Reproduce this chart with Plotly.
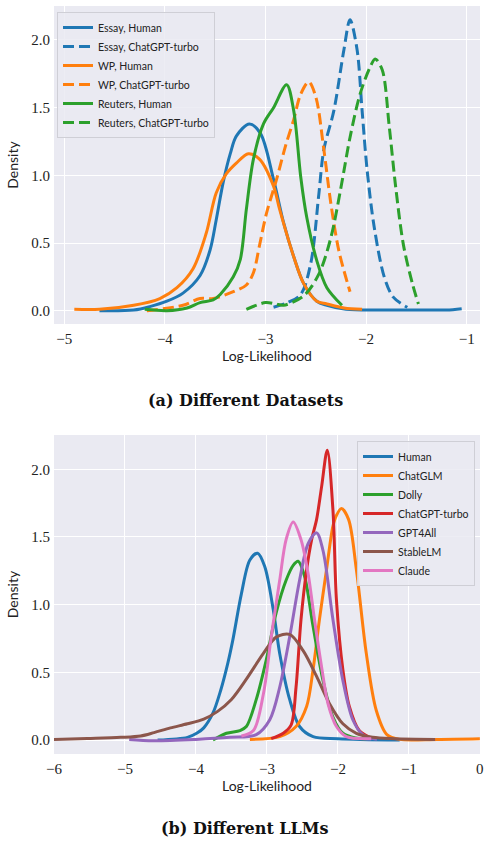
import plotly.graph_objects as go

# ---------------- (a) Different Datasets ----------------
essay_h_x = [-4.65,-4.31,-4.15,-3.98,-3.82,-3.65,-3.55,-3.49,-3.42,-3.35,-3.29,-3.16,-3.05,-2.92,-2.82,-2.72,-2.62,-2.49,-2.39,-2.2,-1.8,-1.4,-1.2,-1.05]
essay_h_y = [0.0,0.005,0.03,0.07,0.13,0.26,0.45,0.67,0.95,1.16,1.29,1.38,1.31,0.97,0.65,0.40,0.20,0.07,0.04,0.01,0.005,0.005,0.005,0.015]

essay_c_x = [-2.92,-2.78,-2.65,-2.55,-2.47,-2.42,-2.32,-2.22,-2.16,-2.09,-2.04,-1.99,-1.92,-1.82,-1.73,-1.59]
essay_c_y = [0.025,0.06,0.12,0.35,0.86,1.19,1.48,1.93,2.15,1.93,1.48,1.04,0.62,0.25,0.10,0.025]

wp_h_x = [-4.9,-4.65,-4.31,-4.05,-3.88,-3.72,-3.59,-3.49,-3.39,-3.29,-3.17,-3.06,-2.92,-2.86,-2.72,-2.62,-2.49,-2.39,-2.22,-2.04]
wp_h_y = [0.01,0.01,0.04,0.09,0.17,0.31,0.57,0.87,1.01,1.09,1.16,1.12,0.92,0.75,0.40,0.20,0.07,0.05,0.02,0.01]

wp_c_x = [-4.18,-3.82,-3.65,-3.52,-3.32,-3.19,-3.12,-3.06,-2.99,-2.89,-2.80,-2.72,-2.65,-2.57,-2.50,-2.42,-2.35,-2.27,-2.16]
wp_c_y = [0.0,0.04,0.09,0.09,0.14,0.19,0.28,0.48,0.72,0.97,1.22,1.41,1.60,1.69,1.58,1.19,0.79,0.44,0.14]

reu_h_x = [-4.2,-3.98,-3.78,-3.65,-3.52,-3.45,-3.32,-3.25,-3.19,-3.12,-3.02,-2.92,-2.79,-2.72,-2.65,-2.59,-2.49,-2.39,-2.24]
reu_h_y = [0.01,0.0,0.02,0.06,0.08,0.12,0.25,0.38,0.75,1.12,1.38,1.50,1.67,1.48,0.99,0.69,0.37,0.17,0.04]

reu_c_x = [-3.19,-3.0,-2.9,-2.82,-2.62,-2.47,-2.35,-2.25,-2.16,-2.06,-1.96,-1.91,-1.84,-1.77,-1.71,-1.63,-1.54,-1.48]
reu_c_y = [0.01,0.06,0.05,0.04,0.11,0.27,0.54,0.91,1.28,1.60,1.80,1.86,1.78,1.36,0.94,0.49,0.20,0.05]

# ---------------- (b) Different LLMs ----------------
human_x = [-4.54,-4.12,-3.99,-3.89,-3.76,-3.65,-3.55,-3.48,-3.36,-3.24,-3.13,-3.03,-2.91,-2.82,-2.68,-2.54,-2.35,-2.0,-1.13]
human_y = [0.0,0.02,0.05,0.09,0.20,0.37,0.57,0.74,1.08,1.33,1.38,1.28,0.96,0.64,0.30,0.10,0.025,0.01,0.0]

chatglm_x = [-3.24,-2.82,-2.59,-2.44,-2.35,-2.26,-2.16,-2.07,-2.02,-1.95,-1.85,-1.74,-1.60,-1.46,-1.31,-1.13,-0.6,0.0]
chatglm_y = [0.005,0.025,0.10,0.25,0.52,0.89,1.26,1.58,1.66,1.71,1.63,1.26,0.64,0.22,0.04,0.005,0.005,0.01]

dolly_x = [-3.76,-3.57,-3.38,-3.29,-3.15,-3.01,-2.87,-2.73,-2.63,-2.56,-2.47,-2.35,-2.21,-2.07,-1.93,-1.75,-1.6]
dolly_y = [0.0,0.05,0.07,0.10,0.30,0.59,0.94,1.18,1.29,1.32,1.21,0.84,0.44,0.17,0.05,0.015,0.01]

turbo_x = [-2.94,-2.77,-2.66,-2.59,-2.52,-2.44,-2.37,-2.30,-2.23,-2.15,-2.07,-2.02,-1.93,-1.84,-1.70,-1.55]
turbo_y = [0.01,0.05,0.11,0.39,0.89,1.26,1.48,1.63,1.87,2.14,1.70,1.03,0.52,0.25,0.07,0.02]

gpt4all_x = [-4.94,-4.6,-4.0,-3.52,-3.15,-2.96,-2.82,-2.68,-2.54,-2.42,-2.30,-2.21,-2.07,-1.93,-1.79,-1.65,-1.45]
gpt4all_y = [0.005,-0.005,0.005,0.02,0.04,0.15,0.39,0.76,1.18,1.45,1.53,1.40,0.89,0.44,0.15,0.04,0.005]

stablelm_x = [-6.0,-5.53,-5.06,-4.78,-4.59,-4.36,-4.12,-3.89,-3.7,-3.5,-3.29,-3.05,-2.87,-2.68,-2.49,-2.30,-2.12,-1.93,-1.74,-1.51,-1.2,-0.63]
stablelm_y = [0.005,0.012,0.02,0.03,0.055,0.09,0.12,0.155,0.21,0.30,0.45,0.64,0.76,0.78,0.66,0.47,0.27,0.12,0.05,0.02,0.01,0.005]

claude_x = [-3.36,-3.19,-3.05,-2.94,-2.82,-2.73,-2.63,-2.52,-2.42,-2.33,-2.23,-2.14,-2.02,-1.88,-1.53]
claude_y = [0.03,0.07,0.34,0.76,1.18,1.48,1.61,1.48,1.23,0.89,0.54,0.27,0.10,0.025,0.01]

x_ticks_a = [-5, -4, -3, -2, -1]
x_ticks_b = [-6, -5, -4, -3, -2, -1, 0]
y_ticks = [0.0, 0.5, 1.0, 1.5, 2.0]
y_tick_text = ["0.0", "0.5", "1.0", "1.5", "2.0"]

BLUE, ORANGE, GREEN, RED, PURPLE, BROWN, PINK = "#1f77b4", "#ff7f0e", "#2ca02c", "#d62728", "#9467bd", "#8c564b", "#e377c2"
DASH = "11px,5px"
LW = 3

fig = go.Figure()

top_series = [
    ("Essay, Human", essay_h_x, essay_h_y, BLUE, "solid"),
    ("Essay, ChatGPT-turbo", essay_c_x, essay_c_y, BLUE, DASH),
    ("WP, Human", wp_h_x, wp_h_y, ORANGE, "solid"),
    ("WP, ChatGPT-turbo", wp_c_x, wp_c_y, ORANGE, DASH),
    ("Reuters, Human", reu_h_x, reu_h_y, GREEN, "solid"),
    ("Reuters, ChatGPT-turbo", reu_c_x, reu_c_y, GREEN, DASH),
]
for name, xs, ys, c, d in top_series:
    fig.add_trace(go.Scatter(x=xs, y=ys, name=name, mode="lines",
                             line=dict(color=c, width=LW, dash=d, shape="spline", smoothing=0.9),
                             xaxis="x", yaxis="y", legend="legend"))

bot_series = [
    ("Human", human_x, human_y, BLUE),
    ("ChatGLM", chatglm_x, chatglm_y, ORANGE),
    ("Dolly", dolly_x, dolly_y, GREEN),
    ("ChatGPT-turbo", turbo_x, turbo_y, RED),
    ("GPT4All", gpt4all_x, gpt4all_y, PURPLE),
    ("StableLM", stablelm_x, stablelm_y, BROWN),
    ("Claude", claude_x, claude_y, PINK),
]
for name, xs, ys, c in bot_series:
    fig.add_trace(go.Scatter(x=xs, y=ys, name=name, mode="lines",
                             line=dict(color=c, width=LW, shape="spline", smoothing=0.9),
                             xaxis="x2", yaxis="y2", legend="legend2"))

# Figure fills the whole window (the page margin is removed by a small post script).
W, H = 484, 844
def px(p):
    return p / W
def py(p):
    return max(0.0, min(1.0, 1 - p / H))

tickfont = dict(family="Liberation Serif", size=15, color="#222222")
titlefont = dict(family="Lato", size=14, color="#222222")
legfont = dict(family="Lato", size=10.5, color="#222222")
capfont = dict(family="DejaVu Serif", size=16, color="#111111")

def xax(domain, rng, ticks, anchor):
    return dict(domain=domain, range=rng, tickvals=ticks,
                ticktext=[("\u2212%d" % -t) if t < 0 else str(t) for t in ticks],
                showgrid=True, gridcolor="white", gridwidth=1.3, zeroline=False, showline=False,
                ticks="", tickfont=tickfont, anchor=anchor, automargin=False, ticklabelstandoff=4,
                ticklabeloverflow="allow",
                title=dict(text="Log-Likelihood", font=titlefont, standoff=5))

def yax(domain, rng, anchor):
    return dict(domain=domain, range=rng, tickvals=y_ticks, ticktext=y_tick_text,
                showgrid=True, gridcolor="white", gridwidth=1.3, zeroline=False, showline=False,
                ticks="", tickfont=tickfont, anchor=anchor, automargin=False, ticklabelstandoff=3,
                title=dict(text="Density", font=titlefont, standoff=9))

fig.update_layout(
    width=W, height=H, margin=dict(l=0, r=0, t=0, b=0, autoexpand=False),
    paper_bgcolor="white", plot_bgcolor="#EAEAF2",
    xaxis=xax([px(54), px(480)], [-5.102, -0.868], x_ticks_a, "y"),
    yaxis=yax([py(324), py(6)], [-0.0983, 2.251], "x"),
    xaxis2=xax([px(54), px(480)], [-6, 0.002], x_ticks_b, "y2"),
    yaxis2=yax([py(754), py(435)], [-0.103, 2.253], "x2"),
    legend=dict(x=px(57), y=py(12), xanchor="left", yanchor="top", bgcolor="rgba(234,234,242,0.85)",
                bordercolor="#cfcfd6", borderwidth=1, font=legfont, tracegroupgap=0, itemwidth=30),
    legend2=dict(x=px(475), y=py(441), xanchor="right", yanchor="top", bgcolor="rgba(234,234,242,0.85)",
                 bordercolor="#cfcfd6", borderwidth=1, font=legfont, tracegroupgap=0, itemwidth=30),
    showlegend=True,
    annotations=[
        dict(text="<b>(a) Different Datasets</b>", x=px(245), y=py(400), xref="paper", yref="paper",
             xanchor="center", yanchor="middle", showarrow=False, font=capfont),
        dict(text="<b>(b) Different LLMs</b>", x=px(245), y=py(828), xref="paper", yref="paper",
             xanchor="center", yanchor="middle", showarrow=False, font=capfont),
    ],
)

fig.write_html("out.html", config={"displayModeBar": False},
               post_script="document.body.style.margin='0';document.documentElement.style.overflow='hidden';")
